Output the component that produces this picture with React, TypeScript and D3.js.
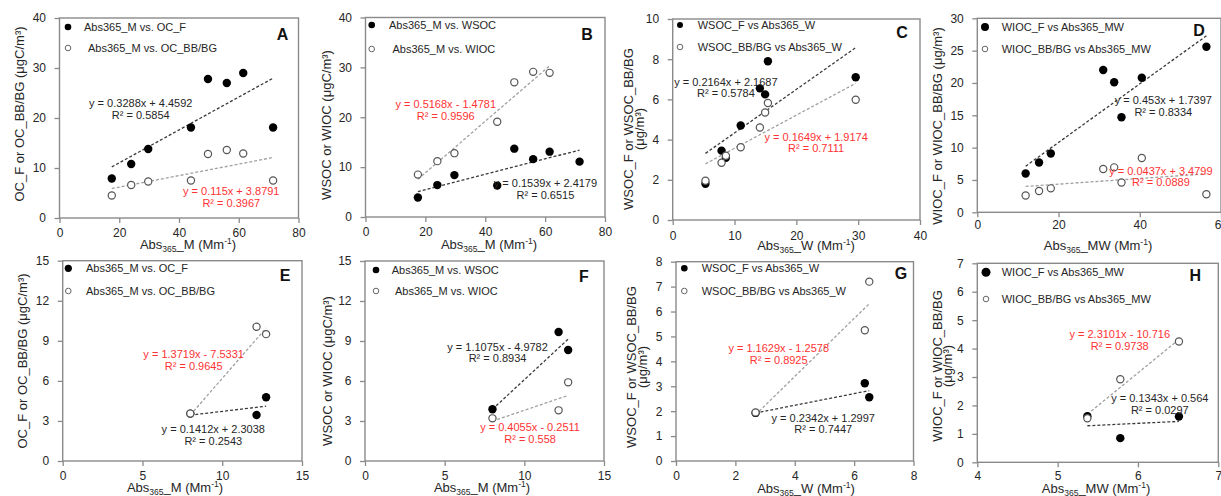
import React, { useEffect, useRef } from "react";
import * as d3 from "d3";

const W = 1221;
const H = 496;
const FONT = "'Liberation Sans', Arial, Helvetica, sans-serif";
const AXIS = "#8a8a8a";
const INK = "#262626";
const RED = "#ff3333";

// ---- data ----
// A / B : Abs365_M, first period
const absM1 = [17.5, 24.0, 29.7, 44.0, 49.7, 56.0, 61.5, 71.5];
const ocF1 = [7.9, 10.8, 13.8, 18.1, 27.8, 27.0, 29.0, 18.1];
const ocBB1 = [4.5, 6.6, 7.3, 7.5, 12.8, 13.6, 12.9, 7.5];
const wsoc1 = [3.9, 6.4, 8.4, 6.3, 13.7, 11.6, 13.1, 11.1];
const wioc1 = [8.5, 11.2, 12.8, 19.1, 27.0, 29.1, 28.9];
// C : Abs365_W
const absW1 = [5.3, 7.9, 8.6, 11.0, 14.1, 14.95, 15.4, 29.6];
const wsocF1 = [1.8, 3.45, 3.1, 4.7, 6.55, 6.25, 7.9, 7.1];
const wsocBB1 = [1.95, 2.85, 3.2, 3.62, 4.6, 5.35, 5.82, 5.98];
// D : Abs365_MW
const absMW1 = [11.9, 15.2, 18.1, 31.0, 33.7, 35.5, 40.5, 56.4];
const wiocF1 = [6.0, 7.7, 9.1, 22.0, 20.1, 14.7, 20.8, 25.6];
const wiocBB1 = [2.6, 3.3, 3.7, 6.7, 6.95, 4.6, 8.4, 2.8];
// E / F : Abs365_M, second period
const absM2 = [8.0, 12.15, 12.75];
const ocF2 = [3.55, 3.45, 4.77];
const ocBB2 = [3.55, 10.05, 9.5];
const wsoc2 = [3.88, 9.68, 8.33];
const wioc2 = [3.2, 3.8, 5.9];
// G : Abs365_W
const absW2 = [2.68, 6.36, 6.51];
const wsocF2 = [1.93, 3.12, 2.56];
const wsocBB2 = [1.95, 5.25, 7.2];
// H : Abs365_MW
const absMW2 = [5.37, 5.78, 6.51];
const wiocF2 = [1.62, 0.85, 1.61];
const wiocBB2 = [1.55, 2.92, 4.25];

// linear fits [slope, intercept, R2] : filled series, open series
const fitA = [[0.3288, 4.4592, 0.5854], [0.115, 3.8791, 0.3967]];
const fitB = [[0.1539, 2.4179, 0.6515], [0.5168, -1.4781, 0.9596]];
const fitC = [[0.2164, 2.1687, 0.5784], [0.1649, 1.9174, 0.7111]];
const fitD = [[0.453, 1.7397, 0.8334], [0.0437, 3.4799, 0.0889]];
const fitE = [[0.1412, 2.3038, 0.2543], [1.3719, -7.5331, 0.9645]];
const fitF = [[1.1075, -4.9782, 0.8934], [0.4055, -0.2511, 0.558]];
const fitG = [[0.2342, 1.2997, 0.7447], [1.1629, -1.2578, 0.8925]];
const fitH = [[0.1343, 0.564, 0.0297], [2.3101, -10.716, 0.9738]];

const legOC = ["Abs365_M vs. OC_F", "Abs365_M vs. OC_BB/BG"];
const legWS = ["Abs365_M vs. WSOC", "Abs365_M vs. WIOC"];
const legW = ["WSOC_F vs Abs365_W", "WSOC_BB/BG vs Abs365_W"];
const legMW = ["WIOC_F vs Abs365_MW", "WIOC_BB/BG vs Abs365_MW"];

const ticks80 = [0, 20, 40, 60, 80];
const ticks40 = [0, 10, 20, 30, 40];

// ---- layout of each panel ----
const panels = [
  {
    letter: "A", box: [59.5, 298.5, 18, 218], xDomain: [0, 80], yDomain: [0, 40],
    xTicks: ticks80, yTicks: ticks40, xPad: 5.5,
    xs: absM1, filled: ocF1, openX: absM1, open: ocBB1, fit: fitA, legend: legOC,
    leg: [8.5, 9, 30, 24.5, 28.5], legR: 3.3, letterPos: [16, 16],
    eqF: [27.2, 23], eqO: [57.5, 5.4],
    xTitle: [188, 248.5, "M"], yTitle: [["OC_F or OC_BB/BG (μgC/m³)", 19, 114]],
  },
  {
    letter: "B", box: [365.5, 605, 17.5, 217], xDomain: [0, 80], yDomain: [0, 40],
    xTicks: ticks80, yTicks: ticks40, xPad: 5.5,
    xs: absM1, filled: wsoc1, openX: absM1.slice(0, 7), open: wioc1, fit: fitB, legend: legWS,
    leg: [6.2, 7.5, 31.5, 23.5, 27], legR: 3.3, letterPos: [18, 16.5],
    eqF: [60.1, 6.8], eqO: [26.8, 22.6],
    xTitle: [489, 248.5, "M"], yTitle: [["WSOC or WIOC (μgC/m³)", 326, 125]],
  },
  {
    letter: "C", box: [672.7, 920, 19, 220], xDomain: [0, 40], yDomain: [0, 10],
    xTicks: [0, 10, 20, 30, 40], yTicks: [0, 2, 4, 6, 8, 10], xPad: 6.5,
    xs: absW1, filled: wsocF1, openX: absW1, open: wsocBB1, fit: fitC, legend: legW,
    leg: [7.3, 6, 28, 25, 25], legR: 3.0, letterPos: [18, 13],
    eqF: [8.6, 6.88], eqO: [23.2, 4.14],
    xTitle: [806, 249.5, "W"], yTitle: [["WSOC_F or WSOC_BB/BG", 628, 129], ["(μg/m³)", 639, 129]],
  },
  {
    letter: "D", box: [977.3, 1221, 18.3, 212.3], xDomain: [0, 60], yDomain: [0, 30],
    xTicks: [0, 20, 40, 60], yTicks: [0, 5, 10, 15, 20, 25, 30], xPad: 3,
    xs: absMW1, filled: wiocF1, openX: absMW1, open: wiocBB1, fit: fitD, legend: legMW,
    leg: [7.7, 8.7, 30.7, 24.4, 24.4], legR: 4.0, letterPos: [22, 12],
    eqF: [45.8, 17.3], eqO: [45.2, 6.4],
    xTitle: [1098, 249.5, "MW"], yTitle: [["WIOC_F or WIOC_BB/BG (μg/m³)", 937, 126]],
  },
  {
    letter: "E", box: [62.7, 302, 260.7, 461], xDomain: [0, 15], yDomain: [0, 15],
    xTicks: [0, 5, 10, 15], yTicks: [0, 3, 6, 9, 12, 15], xPad: 5.8,
    xs: absM2, filled: ocF2, openX: absM2, open: ocBB2, fit: fitE, legend: legOC,
    leg: [5.6, 7.6, 30.3, 23.3, 23.3], legR: 3.6, letterPos: [17, 15],
    eqF: [9.44, 2.37], eqO: [8.21, 8.01],
    xTitle: [175, 492, "M"], yTitle: [["OC_F or OC_BB/BG (μgC/m³)", 22.5, 361]],
  },
  {
    letter: "F", box: [365, 604, 261, 461], xDomain: [0, 15], yDomain: [0, 15],
    xTicks: [0, 5, 10, 15], yTicks: [0, 3, 6, 9, 12, 15], xPad: 5,
    xs: absM2, filled: wsoc2, openX: absM2, open: wioc2, fit: fitF, legend: legWS,
    leg: [11, 9, 30, 26.7, 30], legR: 3.3, letterPos: [20, 15],
    eqF: [8.32, 8.57], eqO: [10.36, 2.53],
    xTitle: [482, 492, "M"], yTitle: [["WSOC or WIOC (μgC/m³)", 327.5, 371]],
  },
  {
    letter: "G", box: [676, 913.5, 261.7, 461], xDomain: [0, 8], yDomain: [0, 8],
    xTicks: [0, 2, 4, 6, 8], yTicks: [0, 1, 2, 3, 4, 5, 6, 7, 8], xPad: 5,
    xs: absW2, filled: wsocF2, openX: absW2, open: wsocBB2, fit: fitG, legend: legW,
    leg: [8.3, 6.6, 29.3, 25.7, 25.7], legR: 3.3, letterPos: [12.5, 11.5],
    eqF: [4.96, 1.74], eqO: [3.46, 4.53],
    xTitle: [806, 492.5, "W"], yTitle: [["WSOC_F or WSOC_BB/BG", 631, 367], ["(μg/m³)", 642, 367]],
  },
  {
    letter: "H", box: [977.3, 1218.3, 263.3, 462.3], xDomain: [4, 7], yDomain: [0, 7],
    xTicks: [4, 5, 6, 7], yTicks: [0, 1, 2, 3, 4, 5, 6, 7], xPad: 4.5,
    xs: absMW2, filled: wiocF2, openX: absMW2, open: wiocBB2, fit: fitH, legend: legMW,
    leg: [8.7, 9, 35.7, 24.4, 24.4], legR: 4.5, letterPos: [23, 12],
    eqF: [6.272, 2.25], eqO: [5.773, 4.51],
    xTitle: [1096, 492.5, "MW"], yTitle: [["WIOC_F or WIOC_BB/BG", 937.5, 366], ["(μg/m³)", 947, 366]],
  },
];

function drawPanel(svg: any, p: any) {
  const [l, r, t, b] = p.box;
  const x = d3.scaleLinear().domain(p.xDomain).range([l, r]);
  const y = d3.scaleLinear().domain(p.yDomain).range([b, t]);
  const g = svg.append("g").attr("font-family", FONT);

  const xAxis = d3.axisBottom(x).tickValues(p.xTicks).tickSize(5).tickPadding(p.xPad).tickFormat(d3.format("d"));
  const yAxis = d3.axisLeft(y).tickValues(p.yTicks).tickSize(5).tickPadding(8.5).tickFormat(d3.format("d"));
  const gx = g.append("g").attr("transform", `translate(0,${b})`).call(xAxis);
  const gy = g.append("g").attr("transform", `translate(${l},0)`).call(yAxis);
  [gx, gy].forEach((a) => {
    a.select(".domain").remove();
    a.selectAll(".tick line").attr("stroke", AXIS).attr("stroke-width", 1.3);
    a.selectAll(".tick text").attr("fill", INK).attr("font-size", 12).attr("font-family", FONT);
  });
  g.append("rect")
    .attr("x", l).attr("y", t).attr("width", r - l).attr("height", b - t)
    .attr("fill", "none").attr("stroke", AXIS).attr("stroke-width", 1.4);

  // trend lines
  const line = d3.line<number[]>().x((d) => x(d[0])).y((d) => y(d[1]));
  const trend = (xs: number[], f: number[], color: string) => {
    const [x0, x1] = d3.extent(xs) as [number, number];
    g.append("path")
      .attr("d", line([[x0, f[0] * x0 + f[1]], [x1, f[0] * x1 + f[1]]]))
      .attr("fill", "none").attr("stroke", color).attr("stroke-width", 1.3)
      .attr("stroke-dasharray", "3,2");
  };
  trend(p.xs, p.fit[0], "#3a3a3a");
  trend(p.openX, p.fit[1], "#a0a0a0");

  // points
  g.selectAll(".pf").data(p.filled).join("circle").attr("class", "pf")
    .attr("cx", (d: number, i: number) => x(p.xs[i])).attr("cy", (d: number) => y(d))
    .attr("r", 4.2).attr("fill", "#000");
  g.selectAll(".po").data(p.open).join("circle").attr("class", "po")
    .attr("cx", (d: number, i: number) => x(p.openX[i])).attr("cy", (d: number) => y(d))
    .attr("r", 3.6).attr("fill", "#fff").attr("stroke", "#555").attr("stroke-width", 1.2);

  // legend
  const [mx, my1, my2, tx1, tx2] = p.leg;
  g.append("circle").attr("cx", l + mx).attr("cy", t + my1).attr("r", p.legR).attr("fill", "#000");
  g.append("circle").attr("cx", l + mx).attr("cy", t + my2).attr("r", 2.8)
    .attr("fill", "#fff").attr("stroke", "#666").attr("stroke-width", 1);
  [[tx1, my1, p.legend[0]], [tx2, my2, p.legend[1]]].forEach(([tx, ty, s]) => {
    g.append("text").attr("x", l + tx).attr("y", t + ty).attr("dominant-baseline", "central")
      .attr("font-size", 11).attr("fill", INK).text(s);
  });

  // panel letter
  g.append("text").attr("x", r - p.letterPos[0]).attr("y", t + p.letterPos[1])
    .attr("text-anchor", "middle").attr("dominant-baseline", "central")
    .attr("font-size", 16).attr("font-weight", "bold").attr("fill", "#111").text(p.letter);

  // equations
  const eq = (pos: number[], f: number[], color: string) => {
    const s = `y = ${f[0]}x ${f[1] < 0 ? "-" : "+"} ${Math.abs(f[1])}`;
    const cx = x(pos[0]);
    const cy = y(pos[1]);
    g.append("text").attr("x", cx).attr("y", cy).attr("text-anchor", "middle")
      .attr("dominant-baseline", "central").attr("font-size", 11).attr("fill", color).text(s);
    g.append("text").attr("x", cx).attr("y", cy + 11.5).attr("text-anchor", "middle")
      .attr("dominant-baseline", "central").attr("font-size", 11).attr("fill", color).text(`R² = ${f[2]}`);
  };
  eq(p.eqF, p.fit[0], INK);
  eq(p.eqO, p.fit[1], RED);

  // x title
  const xt = g.append("text").attr("x", p.xTitle[0]).attr("y", p.xTitle[1])
    .attr("text-anchor", "middle").attr("font-size", 13).attr("fill", INK);
  xt.append("tspan").text("Abs");
  xt.append("tspan").attr("font-size", 8.5).attr("dy", 3).text("365");
  xt.append("tspan").attr("dy", -3).text(`_${p.xTitle[2]} (Mm`);
  xt.append("tspan").attr("font-size", 8.5).attr("dy", -5).text("-1");
  xt.append("tspan").attr("dy", 5).text(")");

  // y title
  p.yTitle.forEach(([s, cx, cy]: [string, number, number]) => {
    g.append("text").attr("transform", `translate(${cx},${cy}) rotate(-90)`)
      .attr("text-anchor", "middle").attr("dominant-baseline", "central")
      .attr("font-size", 13).attr("fill", INK).text(s);
  });
}

export default function App() {
  const ref = useRef<SVGSVGElement>(null);
  useEffect(() => {
    const svg = d3.select(ref.current);
    svg.selectAll("*").remove();
    panels.forEach((p) => drawPanel(svg, p));
  }, []);
  return (
    <svg
      ref={ref}
      width={W}
      height={H}
      style={{ position: "absolute", left: 0, top: 0, background: "#fff" }}
    />
  );
}
